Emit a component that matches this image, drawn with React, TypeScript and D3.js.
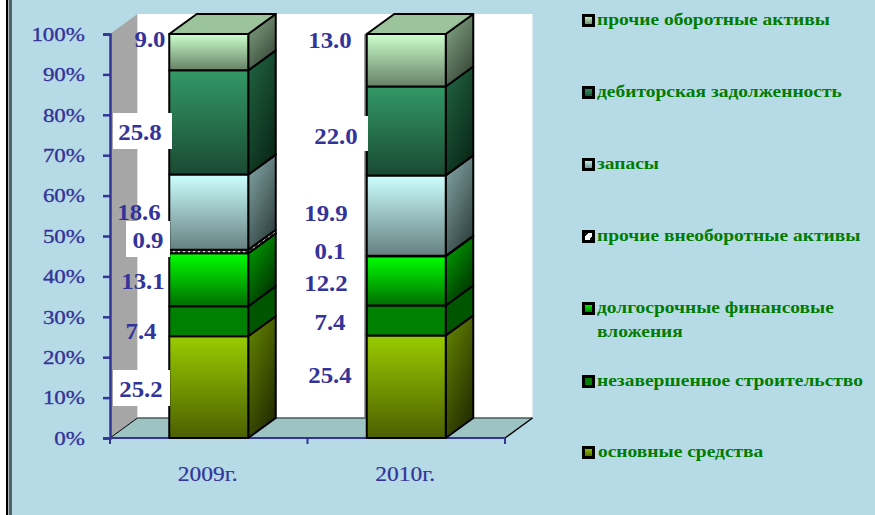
import React, { useEffect, useRef } from "react";
import * as d3 from "d3";

const years = ["2009г.", "2010г."];
const seriesNames = [
  "основные средства",
  "незавершенное строительство",
  "долгосрочные финансовые вложения",
  "прочие внеоборотные активы",
  "запасы",
  "дебиторская задолженность",
  "прочие оборотные активы",
];
const values2009 = [25.2, 7.4, 13.1, 0.9, 18.6, 25.8, 9.0];
const values2010 = [25.4, 7.4, 12.2, 0.1, 19.9, 22.0, 13.0];

// front top, front bottom, side top, side bottom
const frontTop = ["#99cc00", "#008000", "#00ff00", "#ffffff", "#ccffff", "#339966", "#ccffcc"];
const frontBottom = ["#4c5f00", "#008000", "#006e00", "#ffffff", "#668080", "#1a4a33", "#668066"];
const sideTop = ["#668800", "#005500", "#00aa00", "#222222", "#88aaaa", "#226644", "#88aa88"];
const sideBottom = ["#263000", "#005500", "#003300", "#222222", "#334444", "#0a2a18", "#3a4a3a"];

// manual label placement, [centre x, centre y] by series
const labelPos2009 = [[141, 389], [141, 331], [143, 281], [148, 240], [139, 212], [140, 132], [150, 39]];
const labelPos2010 = [[330, 375], [330, 322], [326, 283], [330, 251], [326, 213], [336, 136], [330, 40]];
const labelBoxes = [
  [113, 113, 59, 36],
  [126, 221, 44, 36],
  [113, 370, 57, 36],
  [310, 116, 58, 35],
];
const legendBaselines = [[25], [97], [169], [241], [313, 337], [386], [457]];
const legendLines = [
  ["прочие оборотные активы"],
  ["дебиторская задолженность"],
  ["запасы"],
  ["прочие внеоборотные активы"],
  ["долгосрочные финансовые", "вложения"],
  ["незавершенное строительство"],
  ["основные средства"],
];

const W = 875;
const H = 515;
const BG = "#b7dbe6";
const BLUE = "#333399";
const SERIF = "'Liberation Serif', serif";
const depthX = 27.5;
const depthY = 20;

export default function App() {
  const ref = useRef<SVGSVGElement>(null);

  useEffect(() => {
    const svg = d3.select(ref.current);
    svg.selectAll("*").remove();

    const x = d3.scaleBand().domain(years).range([110, 505]).paddingInner(0.6).paddingOuter(0.3);
    const y = d3.scaleLinear().domain([0, 1]).range([438, 34]);

    const rows = years.map((yr, i) => {
      const vals = i === 0 ? values2009 : values2010;
      const row: any = { year: yr };
      seriesNames.forEach((s, j) => (row[s] = vals[j]));
      return row;
    });
    const stacked = d3.stack().keys(seriesNames).offset(d3.stackOffsetExpand)(rows);

    const defs = svg.append("defs");
    seriesNames.forEach((s, i) => {
      const f = defs.append("linearGradient").attr("id", "front" + i).attr("x2", 0).attr("y2", 1);
      f.append("stop").attr("offset", "0%").attr("stop-color", frontTop[i]);
      f.append("stop").attr("offset", "100%").attr("stop-color", frontBottom[i]);
      const g = defs.append("linearGradient").attr("id", "side" + i).attr("x1", 0).attr("y1", 0).attr("x2", 0.6).attr("y2", 1);
      g.append("stop").attr("offset", "0%").attr("stop-color", sideTop[i]);
      g.append("stop").attr("offset", "100%").attr("stop-color", sideBottom[i]);
    });
    const hatch = defs.append("pattern").attr("id", "hatch").attr("width", 5).attr("height", 3).attr("patternUnits", "userSpaceOnUse");
    hatch.append("rect").attr("width", 5).attr("height", 3).attr("fill", "#d8d8d8");
    hatch.append("rect").attr("width", 3).attr("height", 3).attr("fill", "#444444");
    const hatchLegend = defs.append("pattern").attr("id", "hatchLegend").attr("width", 10).attr("height", 10).attr("patternUnits", "userSpaceOnUse");
    hatchLegend.append("rect").attr("width", 10).attr("height", 10).attr("fill", "#ffffff");
    hatchLegend.append("line").attr("x1", 0).attr("y1", 10).attr("x2", 10).attr("y2", 0).attr("stroke", "#000000").attr("stroke-width", 2);

    svg.append("rect").attr("width", W).attr("height", H).attr("fill", BG);

    // left frame
    svg.append("rect").attr("width", 6).attr("height", H).attr("fill", "#ffffff");
    svg.append("rect").attr("x", 6).attr("width", 2.5).attr("height", H).attr("fill", "#000000");
    svg.append("rect").attr("x", 8.5).attr("width", 0.8).attr("height", H).attr("fill", "#ffffff");
    svg.append("rect").attr("x", 9).attr("width", 3).attr("height", H).attr("fill", "#4f6469");

    // walls and floor
    const [x0, x1] = x.range();
    const poly = (pts: number[][]) => pts.map((p) => p.join(",")).join(" ");
    svg.append("polygon")
      .attr("points", poly([[x0, y(0)], [x0 + depthX, y(0) - depthY], [x0 + depthX, y(1) - depthY], [x0, y(1)]]))
      .attr("fill", "#a6a6a6");
    svg.append("rect")
      .attr("x", x0 + depthX).attr("y", y(1) - depthY)
      .attr("width", x1 - x0).attr("height", y(0) - y(1))
      .attr("fill", "#ffffff");
    svg.append("polygon")
      .attr("points", poly([[x0, y(0)], [x0 + depthX, y(0) - depthY], [x1 + depthX, y(0) - depthY], [x1, y(0)]]))
      .attr("fill", "#9dc3c3");
    svg.append("line")
      .attr("x1", x0 + depthX).attr("x2", x1 + depthX)
      .attr("y1", y(0) - depthY).attr("y2", y(0) - depthY)
      .attr("stroke", "#4a5a5a").attr("stroke-width", 1.5);
    svg.append("line")
      .attr("x1", x0).attr("y1", y(0)).attr("x2", x0 + depthX).attr("y2", y(0) - depthY)
      .attr("stroke", "#000000");
    svg.append("line")
      .attr("x1", x1).attr("y1", y(0)).attr("x2", x1 + depthX).attr("y2", y(0) - depthY)
      .attr("stroke", "#000000").attr("stroke-width", 1.5);

    // axes
    const yAxis = d3.axisLeft(y).tickValues(d3.range(0, 11).map((d) => d / 10)).tickFormat(d3.format(".0%") as any).tickSize(7).tickPadding(18);
    const gy = svg.append("g").attr("transform", `translate(${x0},0)`).call(yAxis as any);
    gy.select(".domain").attr("stroke", BLUE).attr("stroke-width", 2.5);
    gy.selectAll(".tick line").attr("stroke", BLUE).attr("stroke-width", 2.5);
    gy.selectAll(".tick text")
      .attr("fill", BLUE).attr("x", 0).attr("dy", "0.33em")
      .attr("font-family", SERIF).attr("font-size", 19).attr("font-weight", 400)
      .attr("stroke", BLUE).attr("stroke-width", 0.35)
      .attr("transform", "translate(-25,0) scale(1.21,1)");

    const xAxis = d3.axisBottom(x).tickSize(0).tickPadding(28);
    const gx = svg.append("g").attr("transform", `translate(0,${y(0)})`).call(xAxis as any);
    gx.select(".domain").remove();
    gx.selectAll(".tick text")
      .attr("fill", BLUE).attr("font-family", SERIF).attr("font-size", 21)
      .attr("stroke", BLUE).attr("stroke-width", 0.2)
      .attr("transform", "translate(-1,0) scale(1.12,1)");
    svg.append("line").attr("x1", x0).attr("x2", x1).attr("y1", y(0)).attr("y2", y(0)).attr("stroke", BLUE).attr("stroke-width", 2);
    [0, 1, 2].forEach((k) => {
      const tx = x0 + k * x.step();
      svg.append("line").attr("x1", tx).attr("x2", tx).attr("y1", y(0)).attr("y2", y(0) + 6).attr("stroke", BLUE).attr("stroke-width", 2);
    });

    // grey edge behind the second bar
    svg.append("line")
      .attr("x1", x(years[1])! - 1.5).attr("x2", x(years[1])! - 1.5)
      .attr("y1", y(1)).attr("y2", y(0) - depthY)
      .attr("stroke", "#808080").attr("stroke-width", 2);

    // bars
    const bw = x.bandwidth();
    stacked.forEach((layer, i) => {
      layer.forEach((d: any) => {
        const bx = x(d.data.year)!;
        const top = y(d[1]);
        const bottom = y(d[0]);
        const g = svg.append("g").attr("stroke", "#000000").attr("stroke-width", 2).attr("stroke-linejoin", "round");
        g.append("polygon")
          .attr("points", poly([[bx + bw, bottom], [bx + bw + depthX, bottom - depthY], [bx + bw + depthX, top - depthY], [bx + bw, top]]))
          .attr("fill", i === 3 ? "url(#hatch)" : `url(#side${i})`);
        g.append("rect")
          .attr("x", bx).attr("y", top).attr("width", bw).attr("height", bottom - top)
          .attr("fill", i === 3 ? "url(#hatch)" : `url(#front${i})`);
        if (i === seriesNames.length - 1) {
          g.append("polygon")
            .attr("points", poly([[bx, top], [bx + depthX, top - depthY], [bx + bw + depthX, top - depthY], [bx + bw, top]]))
            .attr("fill", "#9cc49c");
        }
      });
    });

    // data labels
    labelBoxes.forEach(([bxX, bxY, bxW, bxH]) => {
      svg.append("rect").attr("x", bxX).attr("y", bxY).attr("width", bxW).attr("height", bxH).attr("fill", "#ffffff");
    });
    [values2009, values2010].forEach((vals, k) => {
      const pos = k === 0 ? labelPos2009 : labelPos2010;
      vals.forEach((v, i) => {
        svg.append("text")
          .text(d3.format(".1f")(v))
          .attr("text-anchor", "middle").attr("dy", "0.34em")
          .attr("transform", `translate(${pos[i][0]},${pos[i][1]}) scale(1.08,1)`)
          .attr("fill", BLUE).attr("font-family", SERIF).attr("font-size", 23).attr("font-weight", 700);
      });
    });

    // legend
    const legendOrder = d3.range(seriesNames.length).reverse();
    legendOrder.forEach((si, row) => {
      const base = legendBaselines[row];
      const sy = base[0] - 11;
      svg.append("rect").attr("x", 583.5).attr("y", sy + 1.5).attr("width", 10).attr("height", 10)
        .attr("fill", si === 3 ? "url(#hatchLegend)" : `url(#front${si})`)
        .attr("stroke", "#000000").attr("stroke-width", 3);
      legendLines[row].forEach((line, l) => {
        svg.append("text")
          .text(line)
          .attr("transform", `translate(${si === 0 ? 598 : 597},${base[l]}) scale(1.145,1)`)
          .attr("fill", "#007c00").attr("font-family", SERIF).attr("font-size", 17).attr("font-weight", 700);
      });
    });
  }, []);

  return <svg ref={ref} width={W} height={H} style={{ position: "absolute", left: 0, top: 0 }} />;
}
